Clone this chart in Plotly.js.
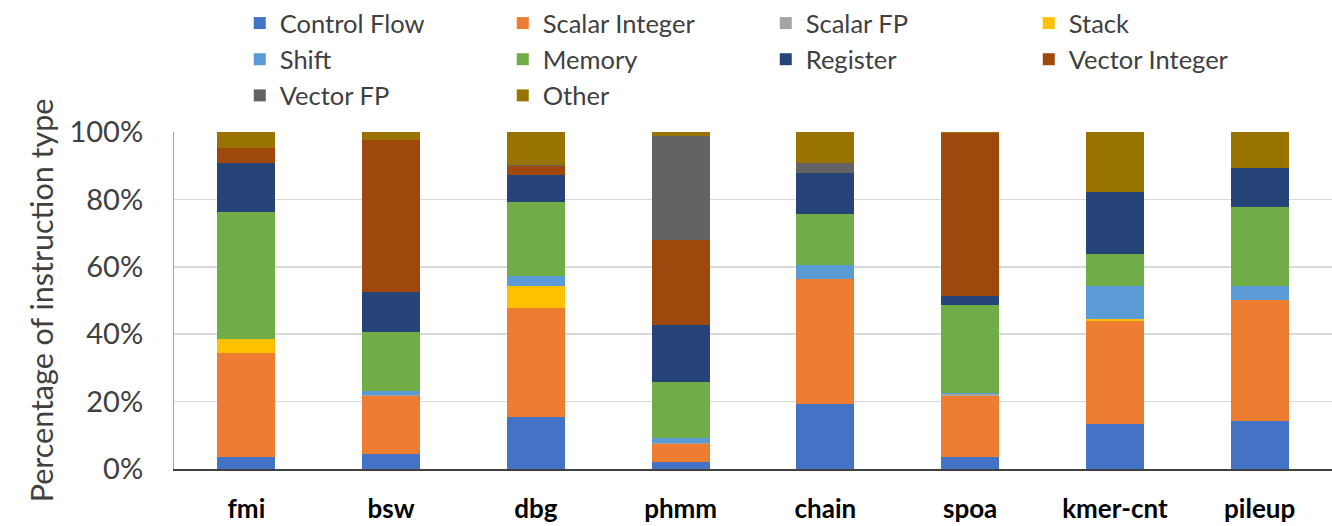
<!DOCTYPE html>
<html>
<head>
<meta charset="utf-8">
<script src="https://cdn.plot.ly/plotly-3.0.1.min.js"></script>
<style>html,body{margin:0;padding:0;background:#fff;}#chart{width:1332px;height:526px;}</style>
</head>
<body>
<div id="chart"></div>
<script>
const categories = ["fmi", "bsw", "dbg", "phmm", "chain", "spoa", "kmer-cnt", "pileup"];
const seriesNames = ["Control Flow", "Scalar Integer", "Scalar FP", "Stack", "Shift", "Memory", "Register", "Vector Integer", "Vector FP", "Other"];
const controlFlow   = [3.5, 4.5, 15.5, 2.0, 19.2, 3.7, 13.3, 14.1];
const scalarInteger = [30.9, 17.3, 32.2, 5.3, 37.2, 18.1, 30.7, 36.1];
const scalarFP      = [0.0, 0.3, 0.0, 0.5, 0.0, 0.5, 0.0, 0.0];
const stack         = [4.2, 0.0, 6.5, 0.0, 0.0, 0.0, 0.6, 0.0];
const shift         = [0.0, 1.1, 3.2, 1.3, 4.2, 0.3, 9.6, 4.2];
const memory        = [37.6, 17.4, 21.8, 16.8, 15.0, 26.1, 9.7, 23.2];
const register      = [14.6, 11.8, 8.1, 16.9, 12.2, 2.5, 18.2, 11.7];
const vectorInteger = [4.6, 45.3, 2.5, 25.2, 0.0, 48.5, 0.0, 0.0];
const vectorFP      = [0.0, 0.0, 0.5, 30.7, 3.0, 0.0, 0.0, 0.0];
const other         = [4.6, 2.3, 9.7, 1.3, 9.2, 0.3, 17.9, 10.7];

const seriesValues = [controlFlow, scalarInteger, scalarFP, stack, shift, memory, register, vectorInteger, vectorFP, other];
const colors = ["#4472C4", "#ED7D31", "#A5A5A5", "#FFC000", "#5B9BD5", "#70AD47", "#264478", "#9E480E", "#636363", "#997300"];

const traces = seriesNames.map((name, i) => ({
  type: "bar",
  name: name,
  x: categories,
  y: seriesValues[i].map(v => v / 100),
  marker: {color: colors[i], line: {width: 0}},
  width: 0.4,
  hoverinfo: "name+y"
}));

const font = "Lato, 'Open Sans', sans-serif";
const layout = {
  width: 1332, height: 526,
  barmode: "stack",
  paper_bgcolor: "#fff", plot_bgcolor: "#fff",
  margin: {l: 174, r: 0, t: 132, b: 57},
  font: {family: font, color: "#404040", size: 22},
  showlegend: true,
  legend: {
    orientation: "h", traceorder: "normal",
    xref: "container", yref: "container",
    x: 0.18, y: 1.0, xanchor: "left", yanchor: "top",
    entrywidth: 218, entrywidthmode: "pixels",
    font: {size: 25.5, color: "#404040", family: font},
    itemwidth: 30
  },
  xaxis: {
    type: "category",
    showgrid: false,
    showline: true, linecolor: "#404040", linewidth: 2,
    ticks: "",
    tickfont: {size: 26, color: "#000", family: font, weight: "bold"},
    ticklabelstandoff: 16
  },
  yaxis: {
    range: [0, 1],
    tickvals: [0, 0.2, 0.4, 0.6, 0.8, 1.0],
    tickformat: ".0%",
    showgrid: true, gridcolor: "#d9d9d9", gridwidth: 1.5,
    showline: true, linecolor: "#a6a6a6", linewidth: 1,
    zeroline: false,
    ticks: "",
    ticklabelstandoff: 24,
    tickfont: {size: 29, color: "#404040", family: font},
    title: {text: "Percentage of instruction type", font: {size: 30.5, color: "#404040", family: font}, standoff: 6}
  }
};

Plotly.newPlot("chart", traces, layout, {displayModeBar: false, staticPlot: true});
</script>
</body>
</html>
